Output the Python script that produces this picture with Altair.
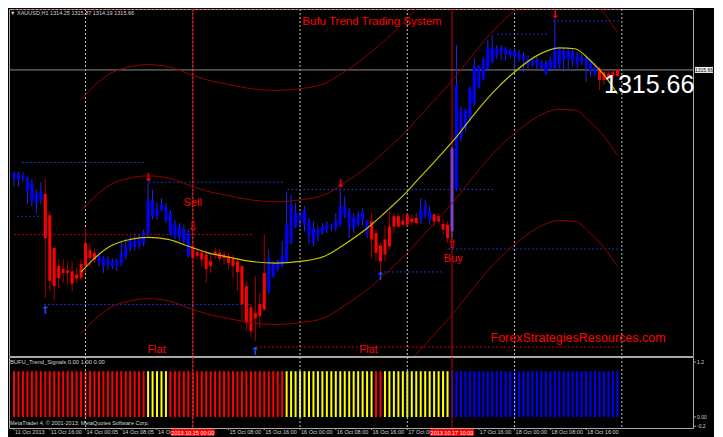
import altair as alt
import pandas as pd

# ---------------- data (XAUUSD H1, bar 0 = 11 Oct 2013 08:00) ----------------
candle_open = [1290.5, 1290.1, 1290.5, 1287.5, 1285.1, 1284.7, 1285.4, 1286.8, 1281.8, 1274.2,
               1270.0, 1269.3, 1269.0, 1268.8, 1268.0, 1270.5, 1275.4, 1273.7, 1273.1, 1271.1,
               1270.0, 1270.4, 1270.0, 1270.0, 1270.7, 1272.3, 1274.2, 1274.4, 1274.8, 1275.4,
               1277.7, 1281.6, 1281.6, 1283.1, 1280.8, 1277.3, 1276.9, 1276.5, 1275.8, 1272.3,
               1274.6, 1273.2, 1273.1, 1272.7, 1271.1, 1273.4, 1273.1, 1272.7, 1272.3, 1271.7,
               1271.1, 1270.0, 1265.3, 1260.4, 1259.1, 1261.2, 1268.4, 1264.2, 1267.6, 1269.2,
               1270.0, 1271.1, 1275.4, 1279.2, 1280.8, 1279.6, 1276.9, 1275.4, 1277.2, 1277.7,
               1278.5, 1278.7, 1278.9, 1279.6, 1282.0, 1279.2, 1278.9, 1279.6, 1280.8, 1277.7,
               1280.4, 1277.7, 1274.8, 1276.2, 1279.2, 1281.6, 1281.6, 1280.6, 1282.0, 1281.0,
               1281.2, 1280.9, 1281.8, 1280.8, 1282.0, 1281.6, 1279.8, 1279.6, 1278.1, 1287.8,
               1299.8, 1302.1, 1304.4, 1307.9, 1311.8, 1313.7, 1316.0, 1317.6, 1319.1, 1319.7,
               1319.3, 1319.1, 1318.7, 1318.3, 1318.0, 1316.8, 1316.9, 1316.8, 1316.0, 1314.8,
               1316.0, 1316.0, 1316.8, 1318.0, 1318.3, 1317.6, 1317.2, 1317.6, 1316.4, 1315.6,
               1314.8, 1316.0, 1315.1, 1314.8, 1315.1, 1314.25]
candle_high = [1292.0, 1292.0, 1291.8, 1290.9, 1290.2, 1287.8, 1289.5, 1290.2, 1282.7, 1274.5,
               1271.6, 1271.6, 1271.1, 1271.1, 1269.6, 1271.6, 1278.6, 1275.4, 1273.9, 1273.4,
               1272.3, 1272.3, 1271.8, 1271.8, 1275.4, 1276.5, 1276.9, 1277.2, 1277.3, 1278.5,
               1289.7, 1287.8, 1284.7, 1285.8, 1284.7, 1283.1, 1280.8, 1280.0, 1279.6, 1278.6,
               1275.4, 1274.2, 1273.8, 1273.8, 1272.7, 1274.2, 1273.9, 1273.4, 1273.1, 1272.7,
               1271.9, 1270.2, 1266.5, 1261.1, 1267.6, 1263.8, 1277.4, 1273.9, 1271.1, 1271.5,
               1275.8, 1287.4, 1286.6, 1284.7, 1282.7, 1283.9, 1281.2, 1280.4, 1279.6, 1280.0,
               1280.4, 1279.9, 1282.3, 1288.1, 1286.2, 1283.5, 1282.3, 1282.7, 1283.5, 1280.8,
               1282.3, 1278.6, 1275.4, 1279.6, 1282.7, 1282.3, 1282.3, 1282.0, 1282.3, 1282.0,
               1282.3, 1285.8, 1285.5, 1283.9, 1282.3, 1282.3, 1280.8, 1280.4, 1297.8, 1321.5,
               1307.1, 1306.7, 1311.8, 1318.3, 1316.8, 1318.7, 1322.6, 1323.8, 1321.4, 1321.4,
               1321.0, 1320.7, 1320.7, 1320.3, 1319.9, 1319.1, 1318.3, 1318.7, 1318.0, 1318.0,
               1318.7, 1327.6, 1321.0, 1320.7, 1320.7, 1320.7, 1319.9, 1319.5, 1319.1, 1318.3,
               1317.2, 1316.4, 1315.6, 1315.6, 1315.6, 1315.87]
candle_low = [1288.5, 1288.5, 1289.7, 1284.4, 1283.9, 1282.3, 1284.4, 1262.6, 1264.2, 1262.0,
              1264.9, 1266.1, 1265.8, 1264.2, 1266.1, 1266.8, 1268.4, 1270.0, 1270.7, 1270.0,
              1268.4, 1269.2, 1269.3, 1268.8, 1270.0, 1271.5, 1273.4, 1273.6, 1274.0, 1274.6,
              1276.9, 1280.9, 1280.8, 1282.7, 1280.0, 1276.9, 1276.2, 1275.8, 1275.0, 1271.9,
              1271.1, 1271.5, 1270.0, 1266.1, 1268.4, 1271.6, 1271.1, 1270.4, 1269.2, 1267.2,
              1264.2, 1257.2, 1254.9, 1253.5, 1252.5, 1255.6, 1259.5, 1263.5, 1267.2, 1268.8,
              1269.6, 1270.7, 1275.0, 1278.9, 1278.9, 1278.1, 1275.0, 1274.6, 1275.8, 1277.3,
              1277.7, 1278.1, 1278.1, 1279.2, 1281.2, 1276.5, 1277.7, 1279.2, 1279.2, 1276.5,
              1271.9, 1271.1, 1268.8, 1271.1, 1273.8, 1277.7, 1278.9, 1279.2, 1279.2, 1279.6,
              1279.6, 1279.8, 1281.1, 1279.6, 1279.2, 1280.0, 1277.3, 1275.4, 1276.5, 1287.4,
              1299.0, 1301.3, 1303.6, 1307.5, 1311.4, 1313.3, 1315.6, 1317.2, 1318.3, 1318.0,
              1318.0, 1318.3, 1316.0, 1317.6, 1315.2, 1316.0, 1316.4, 1315.6, 1315.6, 1314.5,
              1315.6, 1315.6, 1316.0, 1315.2, 1315.6, 1316.4, 1316.0, 1316.8, 1312.9, 1314.1,
              1314.1, 1311.0, 1312.2, 1312.9, 1313.3, 1314.19]
candle_close = [1291.6, 1291.4, 1291.1, 1290.5, 1289.3, 1287.0, 1287.4, 1276.5, 1266.6, 1265.3,
                1267.2, 1268.4, 1268.4, 1265.9, 1267.1, 1267.2, 1270.0, 1271.9, 1271.5, 1272.7,
                1271.9, 1271.5, 1271.1, 1271.1, 1273.1, 1274.6, 1276.0, 1275.8, 1276.3, 1277.7,
                1285.4, 1285.3, 1283.3, 1284.3, 1283.7, 1282.3, 1279.9, 1279.2, 1278.6, 1277.7,
                1271.9, 1272.4, 1271.5, 1269.3, 1270.0, 1272.7, 1271.7, 1271.9, 1270.7, 1270.0,
                1268.6, 1261.1, 1256.8, 1254.9, 1257.8, 1258.4, 1259.9, 1271.7, 1270.5, 1271.1,
                1272.5, 1279.6, 1284.3, 1282.3, 1282.0, 1283.1, 1280.4, 1278.9, 1278.3, 1279.2,
                1279.6, 1279.2, 1280.4, 1283.9, 1283.9, 1282.7, 1281.2, 1282.0, 1282.7, 1280.6,
                1276.2, 1273.1, 1271.1, 1272.7, 1274.6, 1279.2, 1279.2, 1279.6, 1279.6, 1280.2,
                1280.0, 1283.0, 1284.1, 1282.7, 1280.4, 1280.4, 1278.5, 1276.5, 1297.4, 1312.2,
                1306.3, 1306.3, 1311.4, 1316.4, 1316.4, 1318.0, 1320.7, 1321.0, 1320.7, 1320.8,
                1320.5, 1320.3, 1319.9, 1319.5, 1319.0, 1318.2, 1317.6, 1318.0, 1317.4, 1317.2,
                1318.0, 1321.0, 1320.7, 1320.0, 1320.3, 1319.9, 1319.1, 1318.7, 1318.3, 1317.6,
                1316.4, 1313.3, 1313.3, 1314.1, 1314.3, 1315.66]
# bar colouring of the system (B blue, R red, P the purple signal bar), 10 bars per block
candle_trend = ("BBBBBBBRRR RRRRRRRRRB BBBBBBBBBB BBBBBBBBBB RRRRRRRRRR RRRRRRRBBB BBBBBBBBBB "
                "BBBBBBBBBB RRRRRRRRRR RBBBRRRRPB BBBBBBBBBB BBBBBBBBBB BBBBBBBBBB BRRRRR")
# BUFU_Trend_Signals histogram colours (R red, Y yellow = flat, B blue)
signal_trend = ("RRRRRRRRRR RRRRRRRRRR RRRRRRRRRR YYYYYRRRRR RRRRRRRRRR RRRRRRRRRR RYYYYYYYYY "
                "YYYYYYYYYY YRRYYYYYYY YYYYYYYYBB BBBBBBBBBB BBBBBBBBBB BBBBBBBBBB BBBBBB")
signal_level = 1.0

# centre line (yellow) and its bands, sampled along the bar index
ma_idx = [15, 18, 21.5, 26, 30, 34.5, 39, 43, 48, 53, 58.5, 64, 69.5, 74, 79, 84, 88, 90, 94.5,
          99, 103, 107.5, 112, 117, 122, 125.5, 129, 132, 135]
ma_mid = [1268.6, 1271.8, 1274.6, 1276.2, 1276.7, 1276.2, 1274.6, 1273.2, 1272.1, 1271.1, 1270.7,
          1271.1, 1272.3, 1275.1, 1278.8, 1283.4, 1287.4, 1289.7, 1294.8, 1300.1, 1305.4, 1310.8,
          1315.2, 1319.0, 1320.8, 1320.6, 1317.8, 1314.5, 1310.1]
band_up1 = [1282.9, 1286.1, 1288.9, 1290.5, 1291.0, 1290.5, 1288.9, 1287.5, 1286.4, 1285.4, 1285.0,
            1285.4, 1286.6, 1289.4, 1293.1, 1297.7, 1301.7, 1304.0, 1309.1, 1314.4, 1319.7, 1325.1,
            1329.5, 1333.3, 1335.1, 1334.9, 1332.1, 1328.8, 1324.4]
band_lo1 = [1254.3, 1257.5, 1260.3, 1261.9, 1262.4, 1261.9, 1260.3, 1258.9, 1257.8, 1256.8, 1256.4,
            1256.8, 1258.0, 1260.8, 1264.5, 1269.1, 1273.1, 1275.4, 1280.5, 1285.8, 1291.1, 1296.5,
            1300.9, 1304.7, 1306.5, 1306.3, 1303.5, 1300.2, 1295.8]
band_up2 = [1308.8, 1312.0, 1314.8, 1316.4, 1316.9, 1316.4, 1314.8, 1313.4, 1312.3, 1311.3, 1310.9,
            1311.3, 1312.5, 1315.3, 1319.0, 1323.6, 1327.6, 1329.9, 1335.0, 1340.3, 1345.6, 1351.0,
            1355.4, 1359.2, 1361.0, 1360.8, 1358.0, 1354.7, 1350.3]
band_lo2 = [1228.4, 1231.6, 1234.4, 1236.0, 1236.5, 1236.0, 1234.4, 1233.0, 1231.9, 1230.9, 1230.5,
            1230.9, 1232.1, 1234.9, 1238.6, 1243.2, 1247.2, 1249.5, 1254.6, 1259.9, 1265.2, 1270.6,
            1275.0, 1278.8, 1280.6, 1280.4, 1277.6, 1274.3, 1269.9]

# dotted horizontal level lines
hline_start = [0, 1.8, 0.7, 0, 6.8, 30.2, 61.2, 54.2, 81.9, 97.2, 108.1, 120.7]
hline_end = [136, 29.1, 6.2, 53.1, 53.1, 60.3, 107.2, 136, 96.3, 136, 119.6, 136]
hline_price = [1329.75, 1294.11, 1281.57, 1277.32, 1261.06, 1289.53, 1287.84, 1251.15, 1268.63,
               1273.97, 1323.99, 1327.08]
hline_kind = ["R", "B", "B", "R", "B", "B", "B", "R", "B", "B", "B", "B"]

# signal arrows
sell_arrow_idx = [30, 73, 121]
sell_arrow_price = [1290.6, 1289.2, 1328.4]
buy_arrow_idx = [7, 54, 82]
buy_arrow_price = [1259.5, 1250.0, 1267.4]
hollow_arrow_idx = [40, 98]
hollow_arrow_price = [1279.2, 1275.1]
hollow_arrow_glyph = ["⇩", "⇧"]

# annotation texts
note_text = ["Sell", "Buy", "Flat", "Flat", "Bufu Trend Trading System", "ForexStrategiesResources.com"]
note_idx = [40.0, 98.3, 31.9, 79.3, 80.1, 126.2]
note_price = [1284.6, 1271.6, 1250.45, 1250.45, 1326.85, 1253.24]
note_size = [11, 11, 11, 11, 11.5, 12.5]

# axes (the time labels hidden under the two red date boxes are left out)
price_ticks = [1249.60, 1254.00, 1258.40, 1262.80, 1267.20, 1271.60, 1276.00, 1280.40, 1284.80,
               1289.20, 1293.60, 1298.00, 1302.40, 1306.70, 1311.10, 1319.90, 1324.30, 1328.70]
time_tick_idx = [0, 8, 16, 24, 32, 48, 56, 64, 72, 80, 88, 104, 112, 120, 128]
time_tick_labels = ["11 Oct 2013", "11 Oct 16:00", "14 Oct 00:05", "14 Oct 08:05", "14 Oct 16:00",
                    "15 Oct 08:00", "15 Oct 16:00", "16 Oct 00:00", "16 Oct 08:00",
                    "16 Oct 16:00", "17 Oct 00:00", "17 Oct 16:00", "18 Oct 00:00",
                    "18 Oct 08:00", "18 Oct 16:00"]
ind_ticks = [1.2, 0.0, -0.2]
ind_tick_labels = ["1.2", "0.00", "-0.2"]
day_sep_idx = [16, 40, 64, 88, 112, 136]
vline_idx = [40, 98]
vline_labels = ["2013.10.15 00:00", "2013.10.17 10:00"]
current_price = 1315.66
header_text = "▼ XAUUSD,H1  1314.25 1315.87 1314.19 1315.66"
indicator_text = "BUFU_Trend_Signals 0.00 1.00 0.00"
copyright_text = "MetaTrader 4, © 2001-2013, MetaQuotes Software Corp."

# ---------------- styling ----------------
BODY = {"B": "#0000ff", "R": "#ff0000", "P": "#8040c8"}
WICK = {"B": "#2222ee", "R": "#a80000", "P": "#8040c8"}
SIG = {"B": "#0000ff", "R": "#ff0000", "Y": "#ffff00"}
LEVEL = {"B": "#1f3fff", "R": "#ff0000"}
TXT = "#d4d4d4"
FONT = "Liberation Sans"

ct = list(candle_trend.replace(" ", ""))
st = list(signal_trend.replace(" ", ""))
n = len(candle_open)
bars = pd.DataFrame({"i": list(range(n)), "o": candle_open, "h": candle_high, "l": candle_low,
                     "c": candle_close, "trend": ct[:n], "sig": st[:n]})
bars["body_col"] = bars["trend"].map(BODY)
bars["wick_col"] = bars["trend"].map(WICK)
bars["sig_col"] = bars["sig"].map(SIG)
bars["level"] = signal_level

bands = pd.concat([
    pd.DataFrame({"i": ma_idx, "p": band_up1, "band": "up1"}),
    pd.DataFrame({"i": ma_idx, "p": band_lo1, "band": "lo1"}),
    pd.DataFrame({"i": ma_idx, "p": band_up2, "band": "up2"}),
    pd.DataFrame({"i": ma_idx, "p": band_lo2, "band": "lo2"}),
])
ma_df = pd.DataFrame({"i": ma_idx, "p": ma_mid})
hl_df = pd.DataFrame({"x0": hline_start, "x1": hline_end, "p": hline_price,
                      "col": [LEVEL[k] for k in hline_kind]})

W = 684
H_MAIN = 347
H_IND = 71
x_scale = alt.Scale(domain=[0.0, 150.8], nice=False, zero=False)
y_scale = alt.Scale(domain=[1249.06, 1329.85], nice=False, zero=False)
ind_scale = alt.Scale(domain=[-0.24, 1.31], nice=False, zero=False)


def xq(field):
    return alt.X(field, type="quantitative", scale=x_scale, axis=None)


def yq(field):
    return alt.Y(field, type="quantitative", scale=y_scale, axis=None)


def yi(field):
    return alt.Y(field, type="quantitative", scale=ind_scale, axis=None)


price_axis = alt.Axis(orient="right", values=price_ticks, format=".2f", tickSize=3, labelPadding=1,
                      labelFontSize=5, labelFont=FONT, labelColor=TXT, tickColor="#a0a0a0",
                      domain=False, grid=False, title=None, labelOverlap=False, labelBound=False,
                      labelFlush=False)

sep_df = pd.DataFrame({"i": day_sep_idx})
vl_df = pd.DataFrame({"i": vline_idx, "lab": vline_labels})

main_layers = [
    alt.Chart(sep_df).mark_rule(color="#c0c0c0", strokeDash=[2, 2], strokeWidth=1, clip=True)
       .encode(x=xq("i")),
    alt.Chart(vl_df).mark_rule(color="#c00000", strokeWidth=1, clip=True).encode(x=xq("i")),
    alt.Chart(pd.DataFrame({"p": [current_price]})).mark_rule(color="#8a8a8a", strokeWidth=1)
       .encode(y=yq("p")),
    alt.Chart(hl_df).mark_rule(strokeDash=[1.5, 2.5], strokeWidth=1, clip=True)
       .encode(x=xq("x0"), x2="x1:Q", y=yq("p"), color=alt.Color("col:N", scale=None)),
    alt.Chart(bars).mark_rule(strokeWidth=1, clip=True)
       .encode(x=xq("i"), y=alt.Y("l:Q", scale=y_scale, axis=price_axis), y2="h:Q",
               color=alt.Color("wick_col:N", scale=None)),
    alt.Chart(bars).mark_bar(size=3, clip=True)
       .encode(x=xq("i"), y=yq("o"), y2="c:Q", color=alt.Color("body_col:N", scale=None)),
    alt.Chart(bands).mark_line(clip=True, strokeWidth=1, color="#900000", interpolate="monotone")
       .encode(x=xq("i"), y=yq("p"), detail="band:N"),
    alt.Chart(ma_df).mark_line(clip=True, strokeWidth=1.2, color="#c4c400", interpolate="monotone")
       .encode(x=xq("i"), y=yq("p")),
    alt.Chart(pd.DataFrame({"i": sell_arrow_idx, "p": sell_arrow_price}))
       .mark_text(text="↓", font="DejaVu Sans", fontSize=11, fontWeight="bold", color="#ff0000",
                  baseline="middle").encode(x=xq("i"), y=yq("p")),
    alt.Chart(pd.DataFrame({"i": buy_arrow_idx, "p": buy_arrow_price}))
       .mark_text(text="↑", font="DejaVu Sans", fontSize=11, fontWeight="bold", color="#2050ff",
                  baseline="middle").encode(x=xq("i"), y=yq("p")),
    alt.Chart(pd.DataFrame({"i": hollow_arrow_idx, "p": hollow_arrow_price, "g": hollow_arrow_glyph}))
       .mark_text(font="DejaVu Sans", fontSize=13, color="#ff0000", baseline="middle")
       .encode(x=xq("i"), y=yq("p"), text="g:N"),
    alt.Chart(pd.DataFrame({"t": note_text, "i": note_idx, "p": note_price, "s": note_size}))
       .mark_text(font=FONT, color="#ff0000", baseline="middle")
       .encode(x=xq("i"), y=yq("p"), text="t:N", size=alt.Size("s:Q", scale=None)),
    alt.Chart(pd.DataFrame({"t": [header_text]}))
       .mark_text(font=FONT, fontSize=5.5, color=TXT, align="left", baseline="middle")
       .encode(x=alt.value(1), y=alt.value(4), text="t:N"),
    alt.Chart(pd.DataFrame({"t": [f"{current_price:.2f}"]}))
       .mark_text(font=FONT, fontSize=25, color="#ffffff", align="left", baseline="alphabetic")
       .encode(x=alt.value(595), y=alt.value(84), text="t:N"),
    alt.Chart(pd.DataFrame({"a": [current_price + 0.7], "b": [current_price - 0.7]}))
       .mark_rect(color="#f0f0f0")
       .encode(x=alt.value(W + 2), x2=alt.value(W + 20), y=yq("a"), y2="b:Q"),
    alt.Chart(pd.DataFrame({"p": [current_price], "t": [f"{current_price:.2f}"]}))
       .mark_text(font=FONT, fontSize=5, color="#000000", align="center", baseline="middle")
       .encode(x=alt.value(W + 11), y=yq("p"), text="t:N"),
]
main = alt.layer(*main_layers).properties(width=W, height=H_MAIN)

time_df = pd.DataFrame({"i": time_tick_idx, "t": time_tick_labels})
ind_tick_df = pd.DataFrame({"v": ind_ticks, "t": ind_tick_labels})
vl_box = vl_df.assign(a=vl_df["i"] - 4.9, b=vl_df["i"] + 4.9)
ind_layers = [
    alt.Chart(bars).mark_bar(size=2, clip=True)
       .encode(x=xq("i"), y=yi("level"), y2=alt.datum(0),
               color=alt.Color("sig_col:N", scale=None)),
    alt.Chart(sep_df).mark_rule(color="#c0c0c0", strokeDash=[2, 2], strokeWidth=1, clip=True)
       .encode(x=xq("i")),
    alt.Chart(vl_df).mark_rule(color="#c00000", strokeWidth=1, clip=True).encode(x=xq("i")),
    # right-hand scale of the indicator window
    alt.Chart(ind_tick_df).mark_rule(color="#a0a0a0")
       .encode(y=yi("v"), x=alt.value(W), x2=alt.value(W + 3)),
    alt.Chart(ind_tick_df)
       .mark_text(font=FONT, fontSize=5, color=TXT, align="left", baseline="middle")
       .encode(y=yi("v"), x=alt.value(W + 4), text="t:N"),
    # time scale under the indicator window
    alt.Chart(time_df).mark_rule(color="#a0a0a0")
       .encode(x=xq("i"), y=alt.value(H_IND), y2=alt.value(H_IND + 2)),
    alt.Chart(time_df)
       .mark_text(font=FONT, fontSize=5.5, color=TXT, align="left", baseline="top", dx=1)
       .encode(x=xq("i"), y=alt.value(H_IND + 2), text="t:N"),
    alt.Chart(pd.DataFrame({"t": [indicator_text]}))
       .mark_text(font=FONT, fontSize=5.8, color=TXT, align="left", baseline="middle")
       .encode(x=alt.value(1), y=alt.value(5), text="t:N"),
    alt.Chart(pd.DataFrame({"t": [copyright_text]}))
       .mark_text(font=FONT, fontSize=5.5, color=TXT, align="left", baseline="middle")
       .encode(x=alt.value(1), y=alt.value(66), text="t:N"),
    alt.Chart(vl_box).mark_rect(color="#ff0000")
       .encode(x=xq("a"), x2="b:Q", y=alt.value(72), y2=alt.value(79)),
    alt.Chart(vl_df).mark_text(font=FONT, fontSize=5.5, color="#ffffff", baseline="middle")
       .encode(x=xq("i"), y=alt.value(75.5), text="lab:N"),
]
indicator = alt.layer(*ind_layers).properties(width=W, height=H_IND)

chart = (
    alt.vconcat(main, indicator, spacing=1, bounds="flush")
    .resolve_scale(x="independent", y="independent")
    .properties(
        background="#000000",
        padding={"left": 0, "top": 0, "right": 0, "bottom": 0},
        usermeta={"embedOptions": {"defaultStyle": "body{background:#000;overflow:hidden}"}},
    )
    .configure_view(stroke="#a8a8a8", strokeWidth=1)
)

chart.save("out.html", embed_options={"renderer": "svg", "actions": False})
